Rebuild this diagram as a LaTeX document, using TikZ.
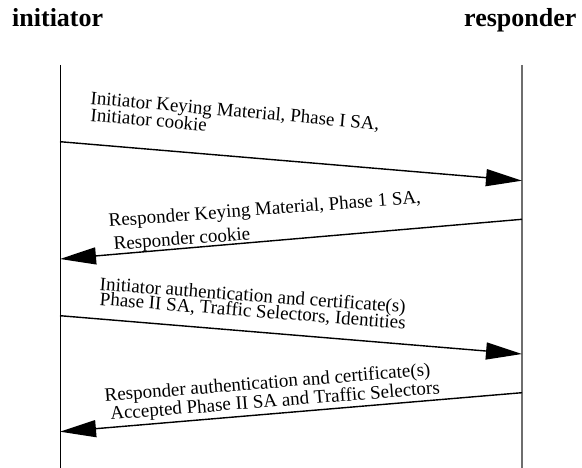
\documentclass[tikz,border=0pt]{standalone}
\usepackage{fontspec}
\setmainfont{Liberation Serif}
\usetikzlibrary{arrows.meta}
\definecolor{lifegray}{RGB}{110,110,110}
\tikzset{
  header/.style={font=\fontsize{26}{26}\selectfont\bfseries, inner sep=0pt, anchor=base west},
  msgtext/.style={font=\fontsize{19}{19}\selectfont, inner sep=0pt, anchor=base west},
  msgarrow/.style={line width=1.4pt, -{Triangle[length=36pt,width=17pt]}},
  lifeline/.style={line width=0.9pt}
}
\begin{document}
\begin{tikzpicture}[x=1pt,y=-1pt]
\useasboundingbox (0,0) rectangle (582,468);
% headers
\node[header] (hi) at (12,27) {initiator};
\node[header] (hr) at (464,26.7) {responder};
% lifelines
\coordinate (ltop) at (60,65);
\coordinate (lbot) at (60,468);
\coordinate (rtop) at (522,65);
\coordinate (rbot) at (522,468);
\draw[lifeline] (ltop) -- (lbot);
\draw[lifeline, lifegray, line width=1.2pt] (rtop) -- (rbot);
% arrow end points
\coordinate (a1s) at (60,141.7);
\coordinate (a1e) at (522,180.7);
\coordinate (a2s) at (522,219.3);
\coordinate (a2e) at (60,259);
\coordinate (a3s) at (60,315.7);
\coordinate (a3e) at (522,354);
\coordinate (a4s) at (522,392.7);
\coordinate (a4e) at (60,431.7);
\draw[msgarrow] (a1s) -- (a1e);
\draw[msgarrow] (a2s) -- (a2e);
\draw[msgarrow] (a3s) -- (a3e);
\draw[msgarrow] (a4s) -- (a4e);
% labels
\node[msgtext, rotate=-5.1] (t1a) at (90,104) {Initiator Keying Material, Phase I SA,};
\node[msgtext, rotate=-5.1] (t1b) at (90,121) {Initiator cookie};
\node[msgtext, rotate=4.3] (t2a) at (109,226.7) {Responder Keying Material, Phase 1 SA,};
\node[msgtext, rotate=4.3] (t2b) at (114,250) {Responder cookie};
\node[msgtext, rotate=-4.3] (t3a) at (99.3,290) {Initiator authentication and certificate(s)};
\node[msgtext, rotate=-4.5] (t3b) at (99.3,305) {Phase II SA, Traffic Selectors, Identities};
\node[msgtext, rotate=4.6] (t4a) at (105,401.7) {Responder authentication and certificate(s)};
\node[msgtext, rotate=4.6] (t4b) at (110.7,420) {Accepted Phase II SA and Traffic Selectors};
\end{tikzpicture}
\end{document}
